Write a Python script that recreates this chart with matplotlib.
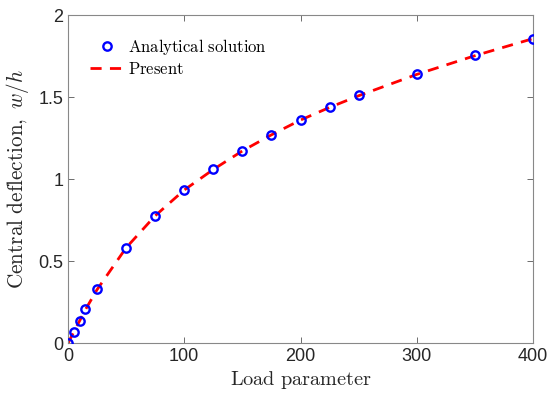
import numpy as np
import matplotlib.pyplot as plt

plt.rcParams['mathtext.fontset'] = 'cm'
plt.rcParams['font.family'] = 'Liberation Sans'

# Load parameter and central deflection w/h
load = [0, 5, 10, 15, 25, 50, 75, 100, 125, 150, 175, 200, 225, 250, 300, 350, 400]
w_analytical = [0.0, 0.071, 0.138, 0.207, 0.329, 0.583, 0.778, 0.935, 1.060, 1.174,
                1.272, 1.362, 1.439, 1.510, 1.640, 1.754, 1.855]
w_present = [0.0, 0.070, 0.137, 0.205, 0.327, 0.582, 0.777, 0.934, 1.059, 1.172,
             1.270, 1.360, 1.437, 1.508, 1.638, 1.752, 1.856]

fig = plt.figure(figsize=(5.48, 3.94), dpi=100)
ax = fig.add_axes([68/548, 1 - 343.3/394, 465/548, 328.3/394])

ax.plot(load, w_analytical, 'o', mfc='none', mec='blue', mew=1.7, ms=6,
        label=r'$\mathrm{Analytical\ solution}$', zorder=3)
ax.plot(load, w_present, '--', c='red', lw=2, dashes=(4, 3),
        label=r'$\mathrm{Present}$', zorder=2)

ax.set_xlim(0, 400)
ax.set_ylim(0, 2)
ax.set_xticks([0, 100, 200, 300, 400])
ax.set_yticks([0, 0.5, 1, 1.5, 2])
ax.set_yticklabels(['0', '0.5', '1', '1.5', '2'])
ax.tick_params(direction='in', length=4, width=0.6, colors='#555555',
               labelcolor='#262626', labelsize=13, top=True, right=True)
for s in ax.spines.values():
    s.set_color('#888888')
    s.set_linewidth(0.8)

ax.set_xlabel(r'$\mathrm{Load\ parameter}$', fontsize=14.6, color='#262626', labelpad=3)
ax.set_ylabel(r'$\mathrm{Central\ deflection},\ w/h$', fontsize=15.3, color='#262626', labelpad=5)

ax.legend(loc='upper left', frameon=False, fontsize=12, handlelength=2.1,
          handletextpad=0.2, borderaxespad=0.9, labelspacing=0.28)

plt.savefig('out.png', dpi=100)
